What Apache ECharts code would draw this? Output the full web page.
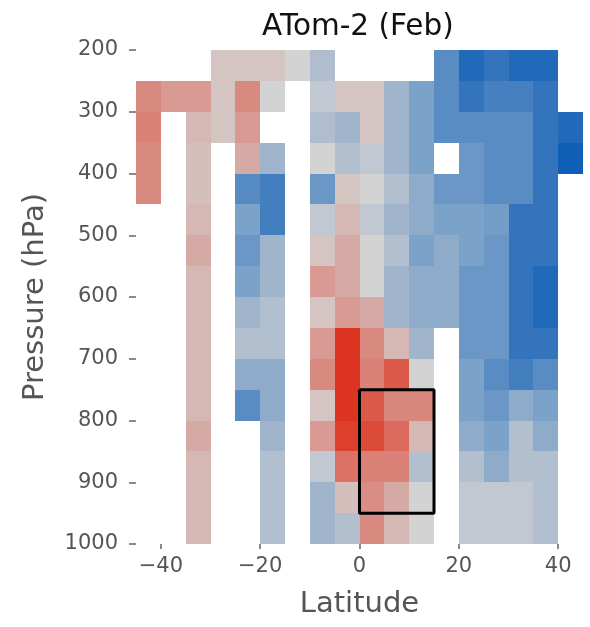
<!DOCTYPE html>
<html>
<head>
<meta charset="utf-8">
<script src="https://cdn.jsdelivr.net/npm/echarts@6/dist/echarts.min.js"></script>
<style>
  html, body { margin: 0; padding: 0; background: #fff; }
  #chart { width: 590px; height: 627px; }
</style>
</head>
<body>
<div id="chart"></div>
<script>
// Cell left edges (latitude, deg) and top edges (pressure, hPa)
const latEdges = [-45, -40, -35, -30, -25, -20, -15, -10, -5, 0, 5, 10, 15, 20, 25, 30, 35, 40];
const presEdges = [200, 250, 300, 350, 400, 450, 500, 550, 600, 650, 700, 750, 800, 850, 900, 950];
const latStep = 5;
const presStep = 50;
const n = null;
// Values per pressure row (one entry per latitude column), null = no data
const p200 = [n, n, n, 0.07, 0.07, 0.07, 0, -0.14, n, n, n, n, -0.6, -0.9, -0.8, -0.9, -0.9, n];
const p250 = [0.4, 0.3, 0.3, 0.07, 0.4, 0, n, -0.07, 0.07, 0.07, -0.2, -0.4, -0.6, -0.8, -0.7, -0.7, -0.8, n];
const p300 = [0.45, n, 0.13, 0.07, 0.3, n, n, -0.14, -0.2, 0.07, -0.2, -0.4, -0.6, -0.6, -0.6, -0.6, -0.8, -0.9];
const p350 = [0.4, n, 0.1, n, 0.2, -0.2, n, 0, -0.13, -0.07, -0.2, -0.4, n, -0.5, -0.6, -0.6, -0.8, -1.0];
const p400 = [0.4, n, 0.1, n, -0.62, -0.72, n, -0.5, 0.07, 0, -0.13, -0.3, -0.5, -0.5, -0.6, -0.6, -0.8, n];
const p450 = [n, n, 0.13, n, -0.4, -0.72, n, -0.07, 0.13, -0.07, -0.2, -0.3, -0.4, -0.4, -0.45, -0.8, -0.8, n];
const p500 = [n, n, 0.2, n, -0.5, -0.2, n, 0.07, 0.2, 0, -0.13, -0.4, -0.3, -0.4, -0.5, -0.8, -0.8, n];
const p550 = [n, n, 0.13, n, -0.4, -0.2, n, 0.3, 0.2, 0, -0.2, -0.3, -0.3, -0.5, -0.5, -0.8, -0.9, n];
const p600 = [n, n, 0.13, n, -0.2, -0.13, n, 0.07, 0.3, 0.2, -0.2, -0.3, -0.3, -0.5, -0.5, -0.8, -0.9, n];
const p650 = [n, n, 0.13, n, -0.13, -0.13, n, 0.3, 1.0, 0.4, 0.13, -0.2, n, -0.5, -0.5, -0.8, -0.8, n];
const p700 = [n, n, 0.13, n, -0.3, -0.3, n, 0.4, 1.0, 0.45, 0.7, 0, n, -0.4, -0.6, -0.72, -0.6, n];
const p750 = [n, n, 0.13, n, -0.6, -0.3, n, 0.07, 1.0, 0.7, 0.42, 0.42, n, -0.4, -0.5, -0.3, -0.4, n];
const p800 = [n, n, 0.2, n, n, -0.2, n, 0.3, 0.9, 0.8, 0.6, 0.13, n, -0.3, -0.4, -0.13, -0.3, n];
const p850 = [n, n, 0.13, n, n, -0.13, n, -0.07, 0.55, 0.45, 0.45, -0.13, n, -0.13, -0.3, -0.13, -0.13, n];
const p900 = [n, n, 0.13, n, n, -0.13, n, -0.2, 0.1, 0.38, 0.2, 0, n, -0.07, -0.07, -0.07, -0.13, n];
const p950 = [n, n, 0.13, n, n, -0.13, n, -0.2, -0.13, 0.4, 0.13, 0, n, -0.07, -0.07, -0.07, -0.13, n];
const rows = [p200, p250, p300, p350, p400, p450, p500, p550, p600, p650, p700, p750, p800, p850, p900, p950];

// Tick labels
const latTicks = [-40, -20, 0, 20, 40];
// Highlighted box
const boxLat = [0, 15];
const boxPres = [750, 950];

const colorStops = ['#0f5fb7', '#3374bc', '#5a8cc4', '#7ba2c8', '#a0b4cc', '#d3d3d3',
                    '#d6aaa4', '#d98a80', '#dc6a5c', '#dc4a38', '#dc3420'];

const cells = [];
rows.forEach((row, i) => {
  row.forEach((v, j) => {
    if (v !== null) cells.push([latEdges[j], presEdges[i], v]);
  });
});

const boxData = [
  [boxLat[0], boxPres[0]], [boxLat[1], boxPres[0]], [boxLat[1], boxPres[1]],
  [boxLat[0], boxPres[1]], [boxLat[0], boxPres[0]]
];

const FONT = 'DejaVu Sans';
const chart = echarts.init(document.getElementById('chart'), null, { renderer: 'canvas' });
chart.setOption({
  animation: false,
  backgroundColor: '#ffffff',
  textStyle: { fontFamily: FONT },
  title: {
    text: 'ATom-2 (Feb)',
    left: 257,
    top: 7,
    textStyle: { fontFamily: FONT, fontSize: 29.5, fontWeight: 'normal', color: '#111' }
  },
  grid: { left: 136, top: 50, width: 447, height: 494, outerBoundsMode: 'none', containLabel: false },
  xAxis: {
    type: 'value',
    min: -45,
    max: 45,
    name: 'Latitude',
    nameLocation: 'middle',
    nameGap: 46,
    nameTextStyle: { fontFamily: FONT, fontSize: 29, color: '#555' },
    axisLine: { show: false, onZero: false },
    splitLine: { show: false },
    axisTick: { show: true, length: 5, customValues: latTicks, lineStyle: { color: '#666', width: 1.5 } },
    axisLabel: {
      customValues: latTicks,
      fontFamily: FONT, fontSize: 21, color: '#555', margin: 12,
      formatter: v => (v < 0 ? '\u2212' + Math.abs(v) : String(v))
    }
  },
  yAxis: {
    type: 'value',
    min: 200,
    max: 1000,
    interval: 100,
    inverse: true,
    name: 'Pressure (hPa)',
    nameLocation: 'middle',
    nameGap: 86,
    nameTextStyle: { fontFamily: FONT, fontSize: 29, color: '#555' },
    axisLine: { show: false, onZero: false },
    splitLine: { show: false },
    axisTick: { show: true, length: 7, lineStyle: { color: '#666', width: 1.5 } },
    axisLabel: { fontFamily: FONT, fontSize: 21, color: '#555', margin: 18, formatter: v => String(v) }
  },
  visualMap: {
    show: false,
    type: 'continuous',
    min: -1,
    max: 1,
    dimension: 2,
    seriesIndex: 0,
    inRange: { color: colorStops }
  },
  series: [
    {
      type: 'custom',
      data: cells,
      encode: { x: 0, y: 1 },
      renderItem: function (params, api) {
        const lat = api.value(0), p = api.value(1);
        const a = api.coord([lat, p]);
        const b = api.coord([lat + latStep, p + presStep]);
        const x0 = Math.round(Math.min(a[0], b[0])), x1 = Math.round(Math.max(a[0], b[0]));
        const y0 = Math.round(Math.min(a[1], b[1])), y1 = Math.round(Math.max(a[1], b[1]));
        return {
          type: 'rect',
          shape: { x: x0, y: y0, width: x1 - x0, height: y1 - y0 },
          style: { fill: api.visual('color') }
        };
      }
    },
    {
      type: 'line',
      data: boxData,
      symbol: 'none',
      silent: true,
      z: 5,
      lineStyle: { color: '#000', width: 3 }
    }
  ]
});
</script>
</body>
</html>
